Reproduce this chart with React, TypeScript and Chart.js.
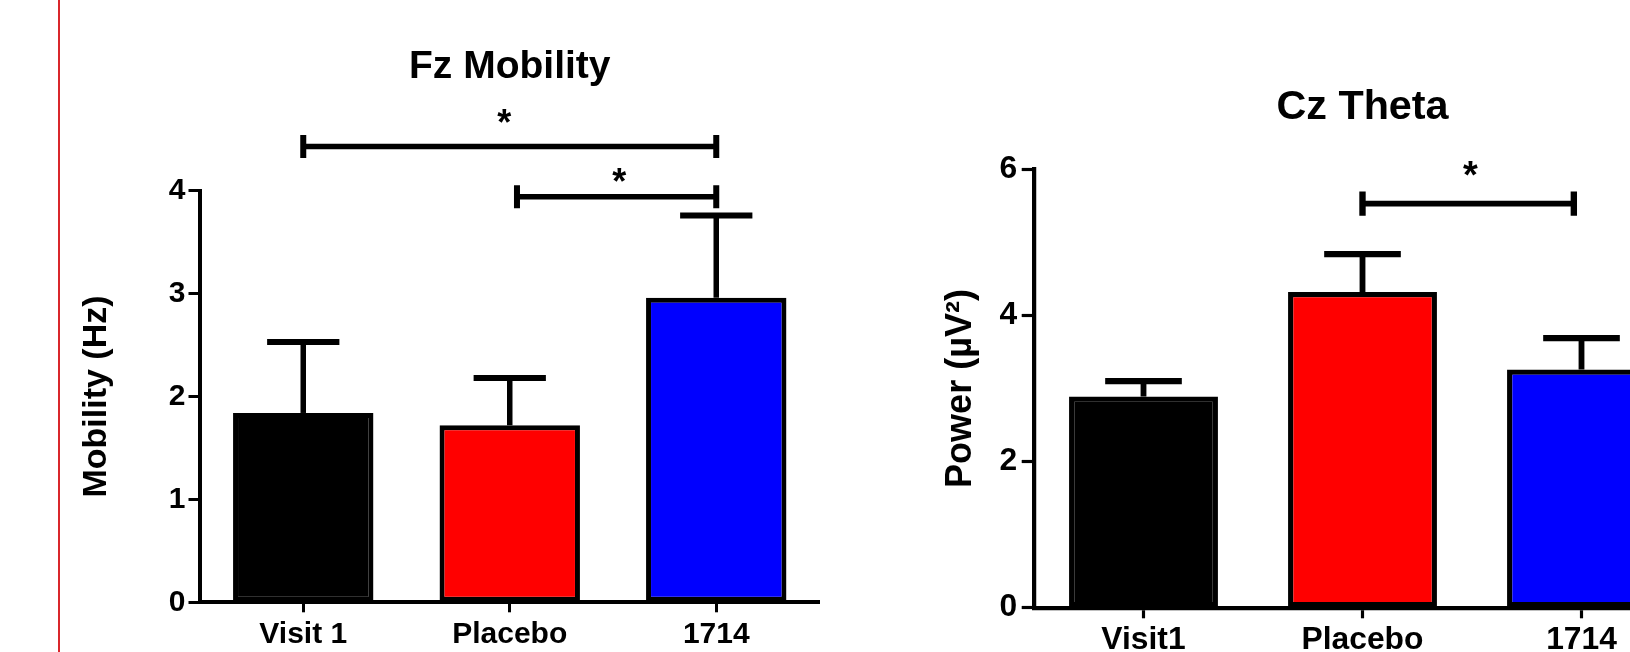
import React, { useEffect, useRef } from "react";
import { Chart, registerables } from "chart.js";

Chart.register(...registerables);

const FONT = "'Liberation Sans', Arial, Helvetica, sans-serif";

// ---------- Fz Mobility ----------
const fzCategories = ["Visit 1", "Placebo", "1714"];
const fzMeans = [1.84, 1.72, 2.96];
const fzSem = [0.69, 0.46, 0.8];
const fzTickMax = 4;
const fzTickStep = 1;
const fzBracketFrom = [0, 1.035];
const fzBracketTo = [2, 2];
const fzBracketY = [4.43, 3.94];
const fzStarX = [0.973, 1.53];
const fzStarY = [4.72, 4.15];

// ---------- Cz Theta ----------
const czCategories = ["Visit1", "Placebo", "1714"];
const czMeans = [2.89, 4.32, 3.26];
const czSem = [0.21, 0.52, 0.43];
const czTickMax = 6;
const czTickStep = 2;
const czBracketFrom = [1];
const czBracketTo = [1.965];
const czBracketY = [5.53];
const czStarX = [1.493];
const czStarY = [6.01];

const barColors = ["#000000", "#ff0000", "#0000ff"];

type Panel = {
  title: string;
  yTitle: string;
  categories: string[];
  means: number[];
  sem: number[];
  max: number;
  step: number;
  bFrom: number[];
  bTo: number[];
  bY: number[];
  sX: number[];
  sY: number[];
  offsetX: number;
  width: number;
  height: number;
  left: number;
  right: number;
  top: number;
  bottom: number;
  s: number;
  titleBaseline: number;
  yTitlePad: number;
  yTickLen: number;
  yTickPad: number;
  xLabelPad: number;
  starSize: number;
};

const annotate = {
  id: "annotate",
  afterDatasetsDraw(chart: any, _args: any, opts: any) {
    const p: Panel = opts.panel;
    const { ctx } = chart;
    const x = chart.scales.x;
    const y = chart.scales.y;
    const s = p.s;
    const catW = x.getPixelForValue(1) - x.getPixelForValue(0);
    ctx.save();
    ctx.strokeStyle = "#000";
    ctx.fillStyle = "#000";
    // error bars (upper)
    p.means.forEach((m, i) => {
      const px = x.getPixelForValue(i);
      const base = y.getPixelForValue(m);
      const top = y.getPixelForValue(m + p.sem[i]);
      ctx.lineCap = "butt";
      ctx.lineWidth = 5.5 * s;
      ctx.beginPath();
      ctx.moveTo(px, base);
      ctx.lineTo(px, top);
      ctx.stroke();
      const half = catW * 0.175;
      ctx.lineWidth = 6 * s;
      ctx.beginPath();
      ctx.moveTo(px - half, top);
      ctx.lineTo(px + half, top);
      ctx.stroke();
    });
    // significance brackets
    p.bFrom.forEach((f, i) => {
      const x1 = x.getPixelForValue(f);
      const x2 = x.getPixelForValue(p.bTo[i]);
      const yb = y.getPixelForValue(p.bY[i]);
      ctx.lineCap = "butt";
      ctx.lineWidth = 5.5 * s;
      ctx.beginPath();
      ctx.moveTo(x1, yb);
      ctx.lineTo(x2, yb);
      ctx.stroke();
      ctx.lineWidth = 6 * s;
      const h = 11.5 * s;
      ctx.beginPath();
      ctx.moveTo(x1, yb - h);
      ctx.lineTo(x1, yb + h);
      ctx.moveTo(x2, yb - h);
      ctx.lineTo(x2, yb + h);
      ctx.stroke();
    });
    // stars
    ctx.font = `bold ${p.starSize}px ${FONT}`;
    ctx.textAlign = "center";
    ctx.textBaseline = "alphabetic";
    p.sX.forEach((sx, i) => {
      const px = x.getPixelForValue(sx);
      const py = y.getPixelForValue(p.sY[i]);
      ctx.fillText("*", px, py + 0.52 * p.starSize);
    });
    // title
    ctx.font = `bold ${39 * s}px ${FONT}`;
    ctx.fillText(p.title, x.getPixelForValue(1), p.titleBaseline);
    ctx.restore();
  },
};

function buildConfig(p: Panel): any {
  const s = p.s;
  return {
    type: "bar",
    data: {
      labels: p.categories,
      datasets: [
        {
          data: p.means,
          backgroundColor: barColors,
          borderColor: "#000",
          borderWidth: 5 * s,
          borderSkipped: false,
          barPercentage: 0.68,
          categoryPercentage: 1,
        },
      ],
    },
    options: {
      responsive: false,
      animation: false,
      events: [],
      layout: { padding: { top: p.top, right: p.width - p.right, left: 0, bottom: 0 } },
      plugins: {
        legend: { display: false },
        tooltip: { enabled: false },
        title: { display: false },
        annotate: { panel: p },
      },
      scales: {
        x: {
          type: "category",
          offset: true,
          grid: {
            display: true,
            drawOnChartArea: false,
            drawTicks: true,
            tickLength: 10 * s,
            tickWidth: 3 * s,
            tickColor: "#000",
            offset: false,
          },
          border: { display: true, color: "#000", width: 4 * s },
          ticks: {
            color: "#000",
            font: { family: FONT, size: 30 * s, weight: "bold" },
            padding: p.xLabelPad,
            maxRotation: 0,
            autoSkip: false,
          },
          afterFit: (scale: any) => {
            scale.height = p.height - p.bottom;
          },
        },
        y: {
          min: 0,
          max: p.max,
          ticks: {
            stepSize: p.step,
            color: "#000",
            font: { family: FONT, size: 30 * s, weight: "bold" },
            padding: p.yTickPad,
          },
          grid: {
            display: true,
            drawOnChartArea: false,
            tickLength: p.yTickLen,
            tickWidth: 3 * s,
            tickColor: "#000",
          },
          border: { display: true, color: "#000", width: 4 * s },
          title: {
            display: true,
            text: p.yTitle,
            color: "#000",
            font: { family: FONT, size: 34 * s, weight: "bold" },
            padding: { top: p.yTitlePad, bottom: 0 },
          },
          afterFit: (scale: any) => {
            scale.width = p.left;
          },
        },
      },
    },
    plugins: [annotate],
  };
}

const fzPanel: Panel = {
  title: "Fz Mobility",
  yTitle: "Mobility (Hz)",
  categories: fzCategories,
  means: fzMeans,
  sem: fzSem,
  max: fzTickMax,
  step: fzTickStep,
  bFrom: fzBracketFrom,
  bTo: fzBracketTo,
  bY: fzBracketY,
  sX: fzStarX,
  sY: fzStarY,
  offsetX: 0,
  width: 840,
  height: 652,
  left: 200,
  right: 819.5,
  top: 190.7,
  bottom: 602.3,
  s: 1,
  titleBaseline: 78.3,
  yTitlePad: 76,
  yTickLen: 11.5,
  yTickPad: 3,
  xLabelPad: 4.3,
  starSize: 36,
};

const czPanel: Panel = {
  title: "Cz Theta",
  yTitle: "Power (\u00b5V\u00b2)",
  categories: czCategories,
  means: czMeans,
  sem: czSem,
  max: czTickMax,
  step: czTickStep,
  bFrom: czBracketFrom,
  bTo: czBracketTo,
  bY: czBracketY,
  sX: czStarX,
  sY: czStarY,
  offsetX: 840,
  width: 900,
  height: 652,
  left: 194,
  right: 851,
  top: 169.3,
  bottom: 607.7,
  s: 1.06,
  titleBaseline: 118.5,
  yTitlePad: 99,
  yTickLen: 12.3,
  yTickPad: 4.4,
  xLabelPad: 3.3,
  starSize: 38,
};

function BarPanel({ panel }: { panel: Panel }) {
  const ref = useRef<HTMLCanvasElement>(null);
  useEffect(() => {
    const chart = new Chart(ref.current as HTMLCanvasElement, buildConfig(panel));
    return () => chart.destroy();
  }, [panel]);
  return (
    <canvas
      ref={ref}
      width={panel.width}
      height={panel.height}
      style={{
        position: "absolute",
        left: panel.offsetX,
        top: 0,
        width: panel.width,
        height: panel.height,
      }}
    />
  );
}

export default function App() {
  return (
    <div
      style={{
        position: "absolute",
        left: 0,
        top: 0,
        width: 1630,
        height: 652,
        overflow: "hidden",
        background: "#ffffff",
      }}
    >
      <div
        style={{
          position: "absolute",
          left: 57.5,
          top: 0,
          width: 2,
          height: 652,
          background: "#d9262b",
        }}
      />
      <BarPanel panel={fzPanel} />
      <BarPanel panel={czPanel} />
    </div>
  );
}
